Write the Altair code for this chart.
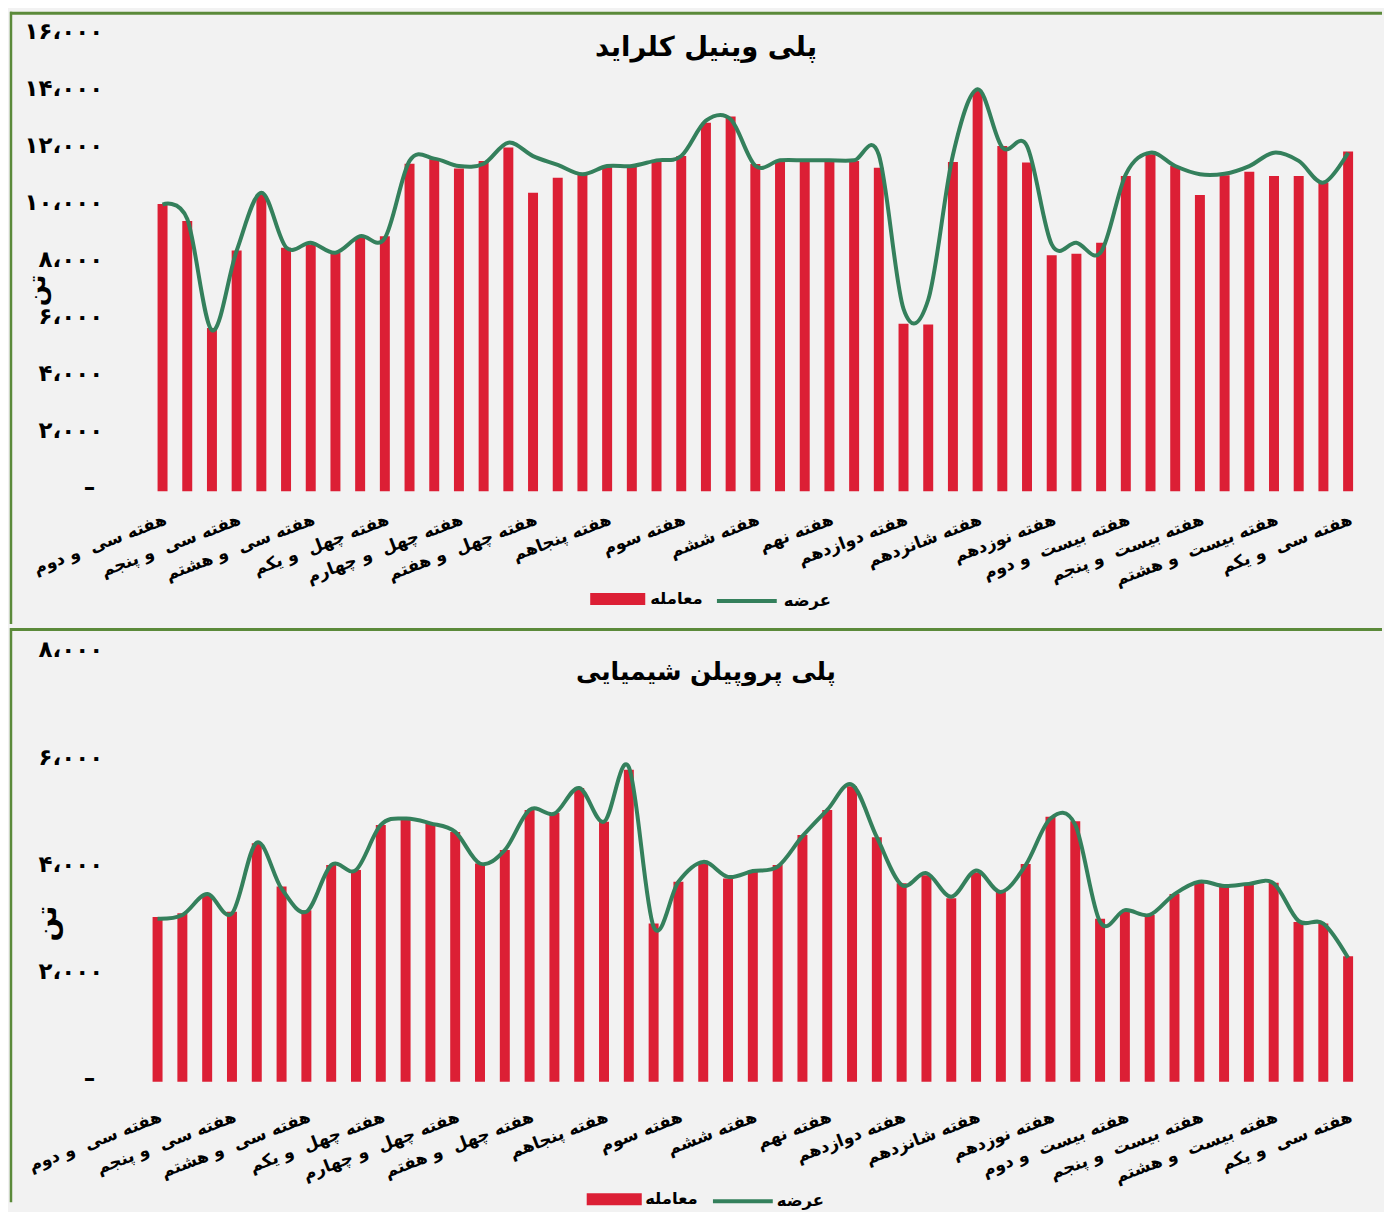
import json
import altair as alt
import pandas as pd

FONT = "DejaVu Sans"
RED = "#DC1F35"
GREEN = "#34805C"
BORDER = "#5B8A3A"
BG = "#F2F2F2"

weeks = ["هفته سی و دوم", "هفته سی و سوم", "هفته سی و چهارم", "هفته سی و پنجم", "هفته سی و ششم",
         "هفته سی و هفتم", "هفته سی و هشتم", "هفته سی و نهم", "هفته چهلم", "هفته چهل و یکم",
         "هفته چهل و دوم", "هفته چهل و سوم", "هفته چهل و چهارم", "هفته چهل و پنجم", "هفته چهل و ششم",
         "هفته چهل و هفتم", "هفته چهل و هشتم", "هفته چهل و نهم", "هفته پنجاهم", "هفته پنجاه و یکم",
         "هفته پنجاه و دوم", "هفته سوم", "هفته چهارم", "هفته پنجم", "هفته ششم",
         "هفته هفتم", "هفته هشتم", "هفته نهم", "هفته دهم", "هفته یازدهم",
         "هفته دوازدهم", "هفته سیزدهم", "هفته چهاردهم", "هفته شانزدهم", "هفته هفدهم",
         "هفته هجدهم", "هفته نوزدهم", "هفته بیستم", "هفته بیست و یکم", "هفته بیست و دوم",
         "هفته بیست و سوم", "هفته بیست و چهارم", "هفته بیست و پنجم", "هفته بیست و ششم", "هفته بیست و هفتم",
         "هفته بیست و هشتم", "هفته بیست و نهم", "هفته سی‌ام", "هفته سی و یکم"]

pvc_trade = [10080, 9480, 5730, 8450, 10410, 8540, 8660, 8370, 8920, 8950,
             11490, 11650, 11320, 11590, 12060, 10470, 11000, 11120, 11380, 11410,
             11590, 11760, 12930, 13150, 11480, 11590, 11590, 11590, 11590, 11350,
             5880, 5850, 11550, 14050, 12110, 11530, 8280, 8330, 8720, 11060,
             11820, 11410, 10390, 11090, 11210, 11060, 11060, 10830, 11920]
pvc_supply = [10060, 9550, 5650, 8440, 10470, 8560, 8720, 8370, 8950, 8880,
              11590, 11670, 11410, 11490, 12230, 11760, 11450, 11120, 11410, 11410,
              11610, 11760, 13000, 13050, 11420, 11610, 11610, 11610, 11610, 11800,
              6400, 6720, 11800, 14100, 12060, 12110, 8660, 8720, 8400, 11120,
              11880, 11410, 11120, 11140, 11410, 11880, 11590, 10830, 11880]

pp_trade = [3070, 3140, 3480, 3170, 4450, 3640, 3200, 4040, 3950, 4790,
            4910, 4820, 4660, 4070, 4320, 5070, 5010, 5480, 4850, 5820,
            2950, 3730, 4070, 3790, 3920, 4040, 4600, 5070, 5510, 4560,
            3700, 3850, 3420, 3900, 3570, 4060, 4940, 4860, 3040, 3170,
            3110, 3500, 3710, 3650, 3670, 3710, 2980, 2950, 2340]
pp_supply = [3040, 3110, 3500, 3140, 4460, 3600, 3170, 4040, 3950, 4790,
             4910, 4820, 4660, 4070, 4320, 5070, 5000, 5480, 4850, 5870,
             2890, 3730, 4100, 3820, 3930, 4010, 4580, 5070, 5540, 4560,
             3670, 3890, 3450, 3940, 3540, 4040, 4910, 4790, 2980, 3200,
             3110, 3500, 3730, 3650, 3690, 3700, 3000, 2950, 2310]

pvc_ticks = [0, 2000, 4000, 6000, 8000, 10000, 12000, 14000, 16000]
pvc_tick_labels = ["–", "۲،۰۰۰", "۴،۰۰۰", "۶،۰۰۰", "۸،۰۰۰", "۱۰،۰۰۰", "۱۲،۰۰۰", "۱۴،۰۰۰", "۱۶،۰۰۰"]
pp_ticks = [0, 2000, 4000, 6000, 8000]
pp_tick_labels = ["–", "۲،۰۰۰", "۴،۰۰۰", "۶،۰۰۰", "۸،۰۰۰"]

titles = ["پلی وینیل کلراید", "پلی پروپیلن شیمیایی"]
series_names = ["معامله", "عرضه"]
y_unit = "تن"

W = 1376

x_label_expr = "replace(datum.value, ' و ', '\u00a0\u00a0و ')"


def panel(title, title_size, trade, supply, ticks, tick_labels, ydom, xrange, height, xoff,
          ytitle, title_y, leg, ylab_off):
    df = pd.DataFrame({"week": weeks, "trade": trade, "supply": supply,
                       "k1": series_names[0], "k2": series_names[1]})
    x = alt.X("week:N", sort=weeks,
              scale=alt.Scale(type="point", range=xrange, padding=0),
              axis=alt.Axis(values=weeks[::3], labelExpr=x_label_expr, labelAngle=-21,
                            labelAlign="right", labelBaseline="top", labelFont=FONT,
                            labelFontSize=17, labelFontWeight="bold", labelColor="#000",
                            labelPadding=5, labelOverlap=False,
                            labelBound=False, ticks=False, domain=False, grid=False,
                            offset=xoff, title=None))
    yscale = alt.Scale(domain=ydom, nice=False, zero=False)
    yaxis = alt.Axis(values=ticks,
                     labelExpr=json.dumps(tick_labels, ensure_ascii=False) + "[round(datum.value/2000)]",
                     labelFont=FONT, labelFontSize=23, labelFontWeight="bold", labelColor="#000",
                     labelPadding={"condition": {"test": "datum.value == 0", "value": 8}, "value": 0},
                     labelOffset=ylab_off,
                     ticks=False, domain=False, grid=False, offset=-93,
                     title=y_unit, titleFont=FONT, titleFontSize=ytitle[2], titleFontWeight="bold",
                     titleColor="#000", titleX=ytitle[0], titleY=ytitle[1], titleAngle=270,
                     titleAlign="center", titleBaseline="middle")
    bars = alt.Chart(df).mark_bar(size=10).encode(
        x=x,
        y=alt.Y("trade:Q", scale=yscale, axis=yaxis),
        fill=alt.Fill("k1:N", scale=alt.Scale(range=[RED]),
                      legend=alt.Legend(orient="none", legendX=leg[0], legendY=leg[4], title=None,
                                        symbolType="M-2.3,-0.5H2.3V0.5H-2.3Z", symbolSize=576,
                                        symbolStrokeWidth=0, labelOffset=leg[1], padding=0,
                                        labelFont=FONT, labelFontSize=16.5, labelFontWeight="bold",
                                        labelColor="#000")),
    )
    line = alt.Chart(df).mark_line(interpolate="cardinal", strokeWidth=4).encode(
        x=x,
        y=alt.Y("supply:Q", scale=yscale, axis=yaxis),
        stroke=alt.Stroke("k2:N", scale=alt.Scale(range=[GREEN]),
                          legend=alt.Legend(orient="none", legendX=leg[2], legendY=leg[4], title=None,
                                            symbolType="M-2.5,0H2.5", symbolSize=576,
                                            symbolStrokeWidth=4, labelOffset=leg[3], padding=0,
                                            labelFont=FONT, labelFontSize=16.5, labelFontWeight="bold",
                                            labelColor="#000")),
    )
    ttl = alt.Chart(pd.DataFrame({"t": [title]})).mark_text(
        font=FONT, fontSize=title_size, fontWeight="bold", color="#000", align="center", baseline="middle"
    ).encode(text="t:N", x=alt.value(698), y=alt.value(title_y))
    bdf = pd.DataFrame({"b": [0]})
    left = alt.Chart(bdf).mark_rule(color=BORDER, strokeWidth=2.5).encode(
        x=alt.value(1), y=alt.value(0), y2=alt.value(height))
    top = alt.Chart(bdf).mark_rule(color=BORDER, strokeWidth=3).encode(
        x=alt.value(0), x2=alt.value(W), y=alt.value(1.5))
    return alt.layer(bars, line, ttl, left, top).properties(width=W, height=height)


H1, H2 = 614, 576
# top: zero at y=481, 16000 at y=23.5 (px/unit 0.028594)
p1 = panel(titles[0], 27.5, pvc_trade, pvc_supply, pvc_ticks, pvc_tick_labels,
           [-4651, 16822], [153, 1342], H1, -118, (-66, 279, 25), 36,
           (597.5, 20.5, 725, 23, 577), -4)
# bottom: zero at y=455, 8000 at y=25 (px/unit 0.05375)
p2 = panel(titles[1], 25, pp_trade, pp_supply, pp_ticks, pp_tick_labels,
           [-2251, 8465], [148, 1342], H2, -99, (-55, 296, 28), 44,
           (594, 19, 721, 20, 561), -3)

chart = alt.vconcat(p1, p2, spacing=0).resolve_scale(
    x="independent", y="independent", fill="independent", stroke="independent"
).resolve_legend(fill="independent", stroke="independent").properties(
    padding=0
).configure(background=BG).configure_view(strokeWidth=0)

chart.save("out.html", embed_options={"renderer": "svg", "actions": False})
